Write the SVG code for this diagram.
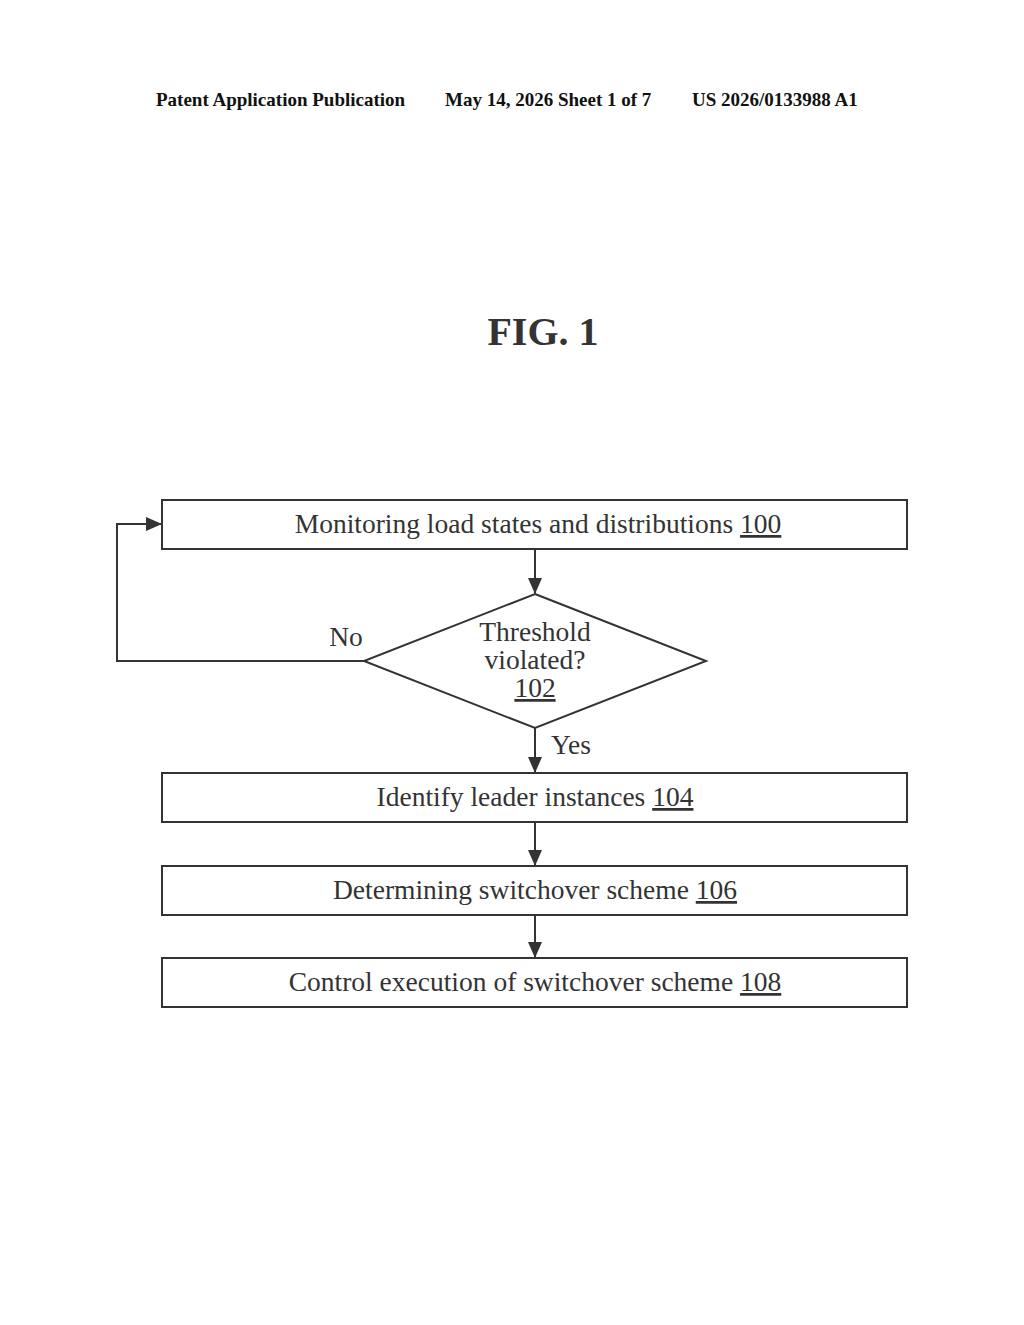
<svg xmlns="http://www.w3.org/2000/svg" width="1024" height="1325" viewBox="0 0 1024 1325">
<style>
.b{fill:#fff;stroke:#333;stroke-width:2}
.t{font-family:"Liberation Serif",serif;font-size:27.5px;fill:#333;text-anchor:middle}
.h{font-family:"Liberation Serif",serif;font-size:19px;font-weight:bold;fill:#111}
.c{fill:none;stroke:#333;stroke-width:2}
</style>
<defs><marker id="a" markerWidth="16" markerHeight="14" refX="15" refY="7" orient="auto" markerUnits="userSpaceOnUse"><path d="M0,0 L16,7 L0,14 z" fill="#333"/></marker></defs>
<rect width="1024" height="1325" fill="#fff"/>
<text class="h" x="156" y="106">Patent Application Publication</text>
<text class="h" x="445" y="106">May 14, 2026  Sheet 1 of 7</text>
<text class="h" x="692" y="106">US 2026/0133988 A1</text>
<text x="543" y="345" style="font-family:'Liberation Serif',serif;font-size:40px;font-weight:bold;text-anchor:middle;fill:#333">FIG. 1</text>
<g id="n100"><rect class="b" x="162" y="500" width="745" height="49"/><text class="t" x="538" y="533">Monitoring load states and distributions <tspan text-decoration="underline">100</tspan></text></g>
<g id="n102"><polygon class="b" points="535,594 706,661 535,728 364,661"/><text class="t" x="535" y="641">Threshold</text><text class="t" x="535" y="669">violated?</text><text class="t" x="535" y="697" text-decoration="underline">102</text></g>
<g id="n104"><rect class="b" x="162" y="773" width="745" height="49"/><text class="t" x="535" y="806">Identify leader instances <tspan text-decoration="underline">104</tspan></text></g>
<g id="n106"><rect class="b" x="162" y="866" width="745" height="49"/><text class="t" x="535" y="899">Determining switchover scheme <tspan text-decoration="underline">106</tspan></text></g>
<g id="n108"><rect class="b" x="162" y="958" width="745" height="49"/><text class="t" x="535" y="991">Control execution of switchover scheme <tspan text-decoration="underline">108</tspan></text></g>
<g id="connectors">
<line class="c" x1="535" y1="549" x2="535" y2="593" marker-end="url(#a)"/>
<line class="c" x1="535" y1="728" x2="535" y2="772" marker-end="url(#a)"/>
<line class="c" x1="535" y1="822" x2="535" y2="865" marker-end="url(#a)"/>
<line class="c" x1="535" y1="915" x2="535" y2="957" marker-end="url(#a)"/>
<polyline class="c" points="364,661 117,661 117,524 161,524" marker-end="url(#a)"/>
<text class="t" x="346" y="646">No</text>
<text class="t" x="571" y="754">Yes</text>
</g>
</svg>
